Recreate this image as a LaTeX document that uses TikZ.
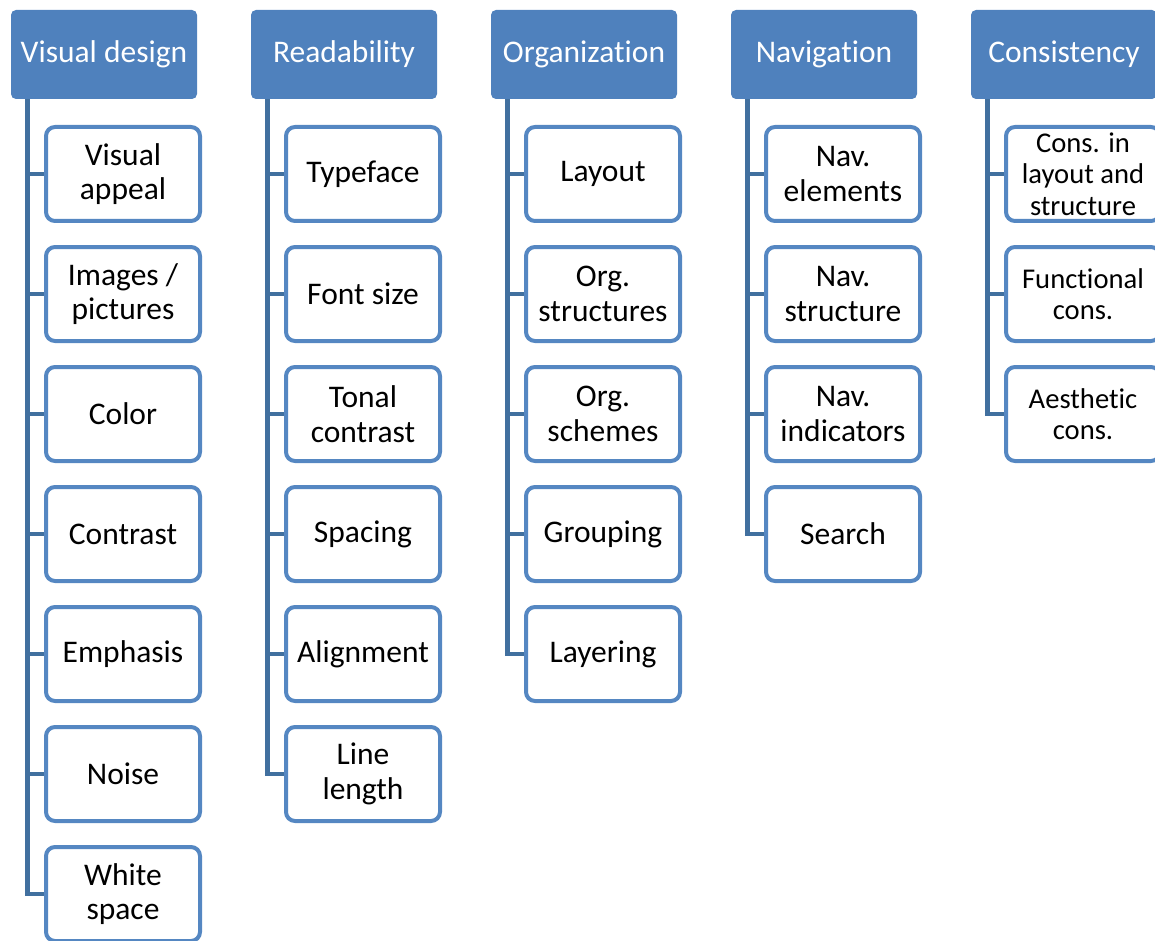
\documentclass[tikz,border=0pt]{standalone}
\usepackage{fontspec}
\setmainfont[Ligatures={NoCommon,NoRare,NoContextual}]{Carlito}
\usetikzlibrary{backgrounds}
\definecolor{headblue}{HTML}{4F81BD}
\definecolor{boxblue}{HTML}{5587C2}
\definecolor{linkblue}{HTML}{41709F}
\tikzset{
  head/.style={rectangle, rounded corners=2.5pt, fill=headblue, text=white,
    minimum width=93pt, minimum height=44.5pt, inner sep=0pt,
    font=\fontsize{15.75}{17.25}\selectfont},
  item/.style={rectangle, rounded corners=4.5pt, draw=boxblue, line width=2pt,
    fill=white, minimum width=77pt, minimum height=47pt, inner sep=0pt,
    align=center, font=\fontsize{15.75}{17.25}\selectfont},
  smallitem/.style={item, font=\fontsize{14.3}{15.75}\selectfont},
  link/.style={draw=linkblue, line width=2.3pt}
}
\begin{document}
\begin{tikzpicture}[x=0.5pt,y=-0.5pt]
\useasboundingbox (0,0) rectangle (1155,941);

% column headers
\node[head] (h1) at (104,54.5)  {Visual design};
\node[head] (h2) at (344,54.5)  {Readability};
\node[head] (h3) at (584,54.5)  {Organization};
\node[head] (h4) at (824,54.5)  {Navigation};
\node[head] (h5) at (1064,54.5) {Consistency};

% Visual design
\node[item] (a1) at (123,174) {Visual\\appeal};
\node[item] (a2) at (123,294) {Images /\\pictures};
\node[item] (a3) at (123,414) {Color};
\node[item] (a4) at (123,534) {Contrast};
\node[item] (a5) at (123,654) {Emphasis};
\node[item] (a6) at (123,774) {Noise};
\node[item] (a7) at (123,894) {White\\space};

% Readability
\node[item] (b1) at (363,174) {Typeface};
\node[item] (b2) at (363,294) {Font size};
\node[item] (b3) at (363,414) {Tonal\\contrast};
\node[item] (b4) at (363,534) {Spacing};
\node[item] (b5) at (363,654) {Alignment};
\node[item] (b6) at (363,774) {Line\\length};

% Organization
\node[item] (c1) at (603,174) {Layout};
\node[item] (c2) at (603,294) {Org.\\structures};
\node[item] (c3) at (603,414) {Org.\\schemes};
\node[item] (c4) at (603,534) {Grouping};
\node[item] (c5) at (603,654) {Layering};

% Navigation
\node[item] (d1) at (843,174) {Nav.\\elements};
\node[item] (d2) at (843,294) {Nav.\\structure};
\node[item] (d3) at (843,414) {Nav.\\indicators};
\node[item] (d4) at (843,534) {Search};

% Consistency
\node[smallitem] (e1) at (1083,174) {Cons. in\\layout and\\structure};
\node[smallitem] (e2) at (1083,294) {Functional\\cons.};
\node[smallitem] (e3) at (1083,414) {Aesthetic\\cons.};

% tree connectors
\begin{scope}[on background layer]
  \foreach \h/\list in {h1/{a1,a2,a3,a4,a5,a6,a7}, h2/{b1,b2,b3,b4,b5,b6},
                        h3/{c1,c2,c3,c4,c5}, h4/{d1,d2,d3,d4}, h5/{e1,e2,e3}} {
    \foreach \c in \list {
      \draw[link] ([xshift=8.5pt]\h.south west) |- (\c.west);
    }
  }
\end{scope}
\end{tikzpicture}
\end{document}
